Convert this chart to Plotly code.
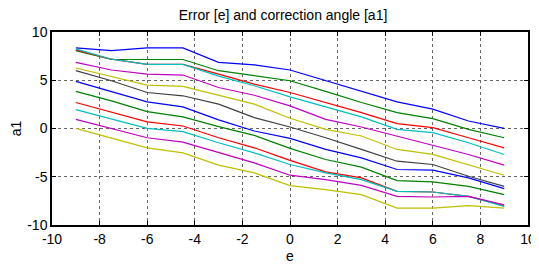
import plotly.graph_objects as go

e_values = [-9, -7.5, -6, -4.5, -3, -1.5, 0, 1.5, 3, 4.5, 6, 7.5, 9]

a1_series = [
    [8.35, 8.07, 8.35, 8.35, 6.86, 6.60, 6.06, 4.95, 3.90, 2.76, 2.00, 0.78, 0.02],
    [8.07, 7.15, 7.15, 7.15, 5.99, 5.47, 4.95, 3.84, 2.69, 1.65, 1.02, -0.09, -0.96],
    [8.15, 7.18, 6.65, 6.65, 5.64, 4.60, 3.73, 2.69, 1.65, 0.50, 0.09, -0.96, -2.00],
    [8.25, 7.18, 6.65, 6.65, 5.43, 4.43, 3.28, 2.24, 1.20, -0.09, -0.43, -1.48, -2.69],
    [6.86, 6.06, 5.64, 5.54, 4.25, 3.45, 2.34, 0.95, 0.16, -0.78, -1.72, -2.69, -3.80],
    [6.27, 5.36, 4.50, 4.36, 3.45, 2.52, 1.06, -0.09, -0.78, -2.17, -2.69, -3.73, -4.84],
    [5.99, 4.95, 3.73, 3.39, 2.52, 1.13, 0.16, -0.96, -2.17, -3.39, -3.73, -4.95, -5.99],
    [4.88, 3.84, 2.76, 2.24, 0.89, -0.26, -1.02, -2.17, -3.04, -4.25, -4.32, -5.12, -6.23],
    [3.84, 2.86, 1.75, 1.20, 0.19, -0.71, -2.06, -3.21, -4.01, -5.40, -5.54, -5.99, -6.86],
    [2.69, 1.72, 0.68, 0.26, -0.96, -2.00, -3.31, -4.50, -5.12, -6.51, -6.58, -7.03, -8.00],
    [1.96, 1.02, 0.02, -0.33, -1.48, -2.52, -3.73, -4.60, -5.30, -6.51, -6.58, -7.03, -8.07],
    [0.95, 0.02, -0.96, -1.41, -2.52, -3.56, -4.84, -5.30, -5.89, -7.03, -7.10, -7.03, -7.90],
    [0.02, -0.96, -2.00, -2.52, -3.80, -4.60, -5.92, -6.33, -6.86, -8.25, -8.25, -8.00, -8.25],
]

line_colors = ["#0000ff", "#008000", "#ff0000", "#00bfbf", "#bf00bf", "#bfbf00", "#404040",
               "#0000ff", "#008000", "#ff0000", "#00bfbf", "#bf00bf", "#bfbf00"]

x_ticks = [-10, -8, -6, -4, -2, 0, 2, 4, 6, 8, 10]
x_tick_labels = ["-10", "-8", "-6", "-4", "-2", "0", "2", "4", "6", "8", "10"]
y_ticks = [-10, -5, 0, 5, 10]
y_tick_labels = ["-10", "-5", "0", "5", "10"]

FONT = "Arial, Liberation Sans, sans-serif"

fig = go.Figure()
for vals, col in zip(a1_series, line_colors):
    fig.add_trace(go.Scatter(x=e_values, y=vals, mode="lines",
                             line=dict(color=col, width=1.2), showlegend=False,
                             hoverinfo="skip"))

axis_common = dict(
    showline=True, linecolor="black", linewidth=1.5, mirror="ticks",
    ticks="inside", ticklen=4, tickcolor="black",
    showgrid=True, gridcolor="#666666", griddash="dot", gridwidth=1,
    zeroline=False, automargin=False,
    tickfont=dict(family=FONT, size=14, color="black"),
)

fig.update_layout(
    width=531, height=265,
    margin=dict(l=44, r=11, t=24, b=48),
    paper_bgcolor="white", plot_bgcolor="white",
    title=dict(text="Error [e] and correction angle [a1]", xref="container", x=0.518,
               xanchor="center", yref="container", y=0.975, yanchor="middle",
               pad=dict(t=0, b=0, l=0, r=0),
               font=dict(family=FONT, size=14, color="black")),
    xaxis=dict(range=[-10, 10], tickvals=x_ticks, ticktext=x_tick_labels,
               title=dict(text="e", standoff=6, font=dict(family=FONT, size=14, color="black")),
               **axis_common),
    yaxis=dict(range=[-10, 10], tickvals=y_ticks, ticktext=y_tick_labels,
               title=dict(text="a1", standoff=4, font=dict(family=FONT, size=14, color="black")),
               **axis_common),
)

fig.write_html("out.html")
